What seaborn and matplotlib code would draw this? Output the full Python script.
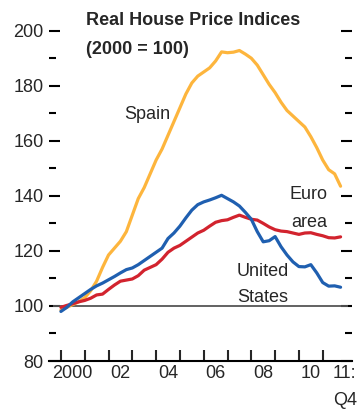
import numpy as np
import pandas as pd
import seaborn as sns
import matplotlib.pyplot as plt

# Quarterly real house price indices, 2000:Q1 - 2011:Q4 (2000 = 100)
quarters = np.arange(2000, 2012, 0.25)

spain = [98.5, 99.5, 100.5, 101.5, 103.0, 105.5, 109.0, 114.0,
         118.5, 121.0, 123.5, 127.0, 133.0, 139.0, 143.0, 148.0,
         153.0, 157.0, 162.0, 167.0, 172.0, 177.0, 181.0, 183.5,
         185.0, 186.5, 189.0, 192.3, 192.0, 192.2, 192.8, 191.5,
         190.0, 187.5, 184.0, 180.5, 177.5, 174.0, 171.0, 169.0,
         167.0, 165.0, 161.5, 157.5, 153.0, 149.5, 148.0, 143.5]

euro_area = [99.5, 100.2, 100.8, 101.5, 102.0, 102.8, 104.0, 104.3,
             106.0, 107.6, 109.0, 109.4, 109.8, 111.0, 113.0, 114.0,
             115.0, 117.0, 119.5, 121.0, 122.0, 123.5, 125.0, 126.5,
             127.5, 129.0, 130.4, 131.0, 131.3, 132.2, 133.0, 132.2,
             131.5, 131.2, 130.0, 128.7, 127.7, 127.2, 127.0, 126.5,
             126.0, 126.5, 126.6, 126.0, 125.5, 124.8, 124.7, 125.1]

united_states = [98.0, 99.5, 101.5, 103.0, 104.5, 106.0, 107.3, 108.3,
                 109.5, 110.7, 112.0, 113.2, 113.8, 115.0, 116.5, 118.0,
                 119.5, 121.0, 124.5, 126.5, 129.0, 132.0, 134.8, 136.8,
                 137.8, 138.5, 139.3, 140.2, 139.0, 137.8, 136.3, 134.0,
                 131.5, 127.0, 123.3, 123.7, 125.2, 121.5, 118.5, 116.0,
                 114.3, 114.2, 115.0, 112.0, 108.5, 107.2, 107.3, 106.8]

year_ticks = list(range(2000, 2012))
year_label_pos = [2000.5, 2002.5, 2004.5, 2006.5, 2008.5, 2010.5]
year_labels = ["2000", "02", "04", "06", "08", "10"]

df = pd.DataFrame({
    "quarter": np.tile(quarters, 3),
    "index": spain + euro_area + united_states,
    "series": ["Spain"] * 48 + ["Euro area"] * 48 + ["United States"] * 48,
})

palette = {"Spain": "#FDB53D", "Euro area": "#D2232E", "United States": "#1F5FB0"}

sns.set_style("ticks")
plt.rcParams["font.family"] = ["Liberation Sans", "DejaVu Sans"]

fig = plt.figure(figsize=(3.62, 4.16), dpi=100)
ax = fig.add_axes([49 / 362, 55 / 416, 303 / 362, 330.3 / 416])

ax.hlines(100, 1999.66, 2012.06, color="#555555", lw=1.3, zorder=1)
sns.lineplot(data=df, x="quarter", y="index", hue="series", palette=palette,
             linewidth=2.3, legend=False, ax=ax, zorder=3)

ax.set_xlim(1999.5, 2012.23)
ax.set_ylim(80, 200)
ax.set_xlabel("")
ax.set_ylabel("")

for side in ["top", "left", "right"]:
    ax.spines[side].set_visible(False)
ax.spines["bottom"].set_linewidth(1.5)
ax.spines["bottom"].set_color("black")

# y ticks on both sides, pointing inward
ax.set_yticks(range(80, 201, 20))
ax.set_yticks(range(90, 200, 20), minor=True)
ax.tick_params(axis="y", which="both", direction="in", left=True, right=True,
               width=1.5, color="black", labelsize=13, pad=4)
ax.tick_params(axis="y", which="major", length=8)
ax.tick_params(axis="y", which="minor", length=5)

# year ticks unlabeled, labels sit between them
ax.set_xticks(year_ticks)
ax.set_xticklabels([])
ax.set_xticks(year_label_pos, minor=True)
ax.set_xticklabels(year_labels, minor=True)
ax.tick_params(axis="x", which="major", direction="in", length=8, width=1.5)
ax.tick_params(axis="x", which="minor", length=0, labelsize=13, pad=3)
ax.text(2011.93, 78.6, "11:\nQ4", ha="center", va="top", fontsize=13,
        linespacing=1.8)

# series labels (va="baseline" aligns the last line)
ax.text(2003.61, 167.9, "Spain", ha="center", va="baseline", fontsize=13)
ax.text(2010.42, 128.6, "Euro\narea", ha="center", va="baseline",
        fontsize=13, linespacing=1.9)
ax.text(2008.49, 101.6, "United\nStates", ha="center", va="baseline",
        fontsize=13, linespacing=1.62)

fig.text(86 / 362, 1 - 53.5 / 416, "Real House Price Indices\n(2000 = 100)",
         ha="left", va="baseline", fontsize=13, fontweight="bold",
         linespacing=1.85)

fig.savefig("out.png", dpi=100)
